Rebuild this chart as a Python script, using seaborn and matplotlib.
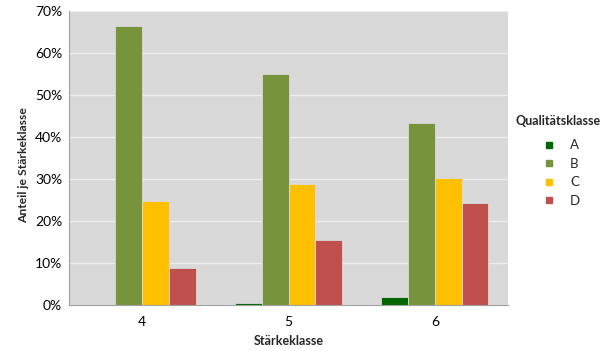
import matplotlib
matplotlib.use("Agg")
import matplotlib.pyplot as plt
import seaborn as sns
import pandas as pd
from matplotlib.lines import Line2D
from matplotlib.ticker import PercentFormatter

staerkeklassen = ["4", "5", "6"]
qualitaetsklassen = ["A", "B", "C", "D"]
anteil_A = [0.0, 0.4, 1.8]
anteil_B = [66.4, 55.0, 43.3]
anteil_C = [24.7, 28.8, 30.3]
anteil_D = [8.7, 15.5, 24.2]
farben = ["#006600", "#77933C", "#FFC000", "#C0504D"]

rows = []
for q, vals in zip(qualitaetsklassen, [anteil_A, anteil_B, anteil_C, anteil_D]):
    for s, v in zip(staerkeklassen, vals):
        rows.append({"Stärkeklasse": s, "Qualitätsklasse": q, "Anteil": v})
df = pd.DataFrame(rows)

sns.set_theme(style="white")
plt.rcParams["font.family"] = ["Lato", "DejaVu Sans"]

fig = plt.figure(figsize=(6.05, 3.51), dpi=100)
ax = fig.add_axes([69 / 605, 1 - 305 / 351, (508 - 69) / 605, (305 - 11) / 351])
ax.set_facecolor("#D9D9D9")

sns.barplot(data=df, x="Stärkeklasse", y="Anteil", hue="Qualitätsklasse",
            order=staerkeklassen, hue_order=qualitaetsklassen,
            palette=farben, saturation=1, width=0.73, ax=ax,
            edgecolor="#DADADA", linewidth=0.6, legend=False)

ax.set_ylim(0, 70)
ax.set_xlim(-0.5, 2.5)
ax.yaxis.set_major_formatter(PercentFormatter(decimals=0))
ax.set_yticks(range(0, 71, 10))
ax.grid(axis="y", color="#ECECEC", linewidth=1.0)
ax.set_axisbelow(True)

ax.set_xticks([-0.5, 0.5, 1.5, 2.5], minor=True)
ax.tick_params(axis="x", which="major", length=0, pad=8, labelsize=10, colors="#000000")
ax.tick_params(axis="x", which="minor", length=5, color="#A0A0A0", width=0.8)
ax.tick_params(axis="y", which="major", length=4, color="#A0A0A0", width=0.8,
               labelsize=10, labelcolor="#000000", pad=1)

for side in ["top", "right"]:
    ax.spines[side].set_visible(False)
for side in ["left", "bottom"]:
    ax.spines[side].set_color("#A0A0A0")
    ax.spines[side].set_linewidth(0.8)

ax.set_xlabel("Stärkeklasse", fontsize=9, fontweight="bold", labelpad=5)
ax.set_ylabel("Anteil je Stärkeklasse", fontsize=8.7, fontweight="bold")
ax.yaxis.set_label_coords(-0.09, 0.476)

handles = [Line2D([0], [0], marker="s", linestyle="", markersize=5,
                  markerfacecolor=c, markeredgecolor=c) for c in farben]
leg = ax.legend(handles, qualitaetsklassen, title="Qualitätsklasse",
                loc="upper left", bbox_to_anchor=(1.005, 0.665), frameon=False,
                fontsize=9.5, title_fontproperties={"weight": "bold", "size": 9},
                handletextpad=0.6, labelspacing=0.5, borderaxespad=0)
leg._legend_box.sep = 9

fig.savefig("out.png", dpi=100)
